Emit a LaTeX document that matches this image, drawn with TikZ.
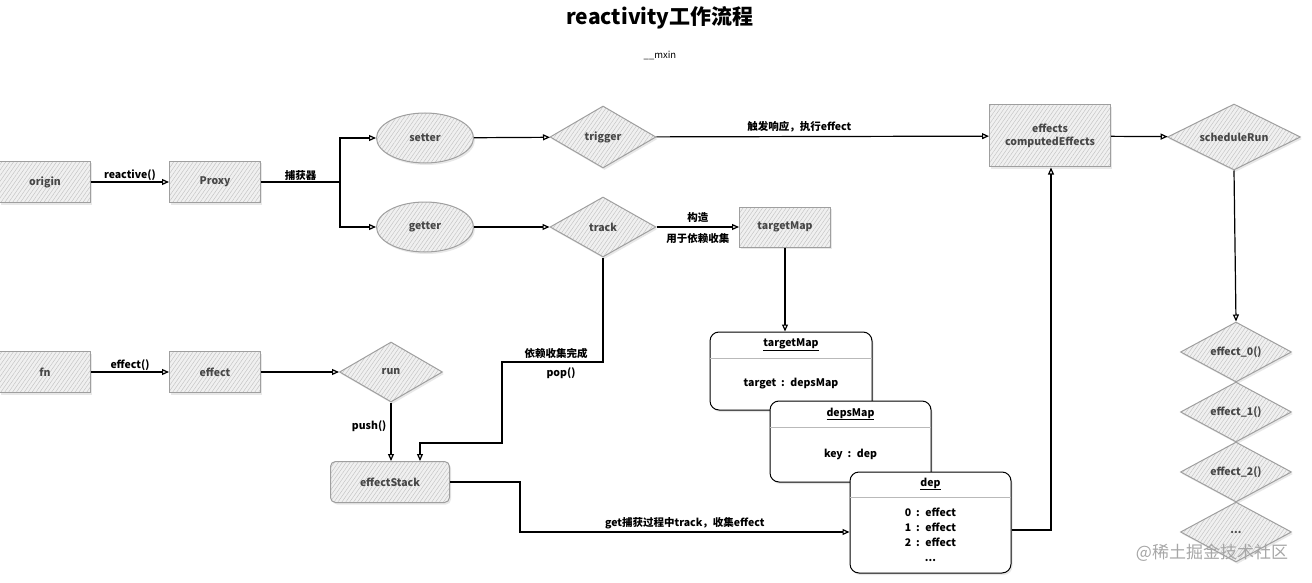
\documentclass[tikz,border=0pt]{standalone}
\usepackage{fontspec}
\setmainfont{Noto Sans CJK SC}
\usetikzlibrary{arrows.meta,shapes.geometric,patterns.meta,shadows}
\begin{document}
\begin{tikzpicture}[x=1pt,y=-1pt,
  shd/.style={drop shadow={shadow xshift=1.5pt,shadow yshift=-2pt,opacity=0.18}},
  hatch/.style={shd,draw=gray!75,line width=1pt,preaction={fill=gray!12},
    pattern={Lines[angle=55,distance=3.2pt,line width=0.4pt]},pattern color=gray!50,
    inner sep=0pt,text=black!72,font=\bfseries\fontsize{10.5}{13.5}\selectfont},
  box/.style={hatch,rectangle,minimum width=91pt,minimum height=41pt},
  ell/.style={hatch,ellipse,minimum width=97pt,minimum height=50pt},
  dia/.style={hatch,diamond,aspect=2,minimum width=106pt,minimum height=62pt},
  tab/.style={shd,draw=black,line width=1pt,fill=white,rounded corners=9pt,inner sep=0pt},
  ttl/.style={font=\bfseries\fontsize{10.5}{13.5}\selectfont},
  lbl/.style={font=\bfseries\fontsize{10.5}{13.5}\selectfont,inner sep=1pt},
  ln/.style={draw,line width=1.2pt},
  arr/.style={ln,-{Triangle[open,length=7pt,width=6pt]}}]
\useasboundingbox (0,0) rectangle (1312,583);

% title
\node[font=\bfseries\fontsize{21}{25}\selectfont] (title) at (660,18) {reactivity工作流程};
\node[font=\fontsize{9.5}{11}\selectfont] (author) at (660,55) {\_\_mxin};

% top row
\node[box] (origin) at (45,182) {origin};
\node[box] (proxy) at (215,182) {Proxy};
\node[ell] (setter) at (425,138) {setter};
\node[ell] (getter) at (425,227) {getter};
\node[dia] (trigger) at (603,137) {trigger};
\node[dia,minimum height=60pt] (track) at (603,227) {track};
\node[box,minimum height=40pt] (targetMap) at (785,227) {targetMap};
\node[box,minimum width=121pt,minimum height=62pt,align=center] (effects) at (1050,136) {effects\\computedEffects};
\node[dia,minimum width=133pt,minimum height=66pt] (sched) at (1234,137) {scheduleRun};

% right column of effects
\node[dia,minimum width=111pt,minimum height=60pt] (e0) at (1236,352) {effect\_0()};
\node[dia,minimum width=111pt,minimum height=60pt] (e1) at (1236,412) {effect\_1()};
\node[dia,minimum width=111pt,minimum height=60pt] (e2) at (1236,472) {effect\_2()};
\node[dia,minimum width=111pt,minimum height=60pt] (e3) at (1236,532) {...};

% bottom row
\node[box] (fn) at (45,372) {fn};
\node[box] (effect) at (215,372) {effect};
\node[dia,minimum width=103pt,minimum height=60pt] (run) at (391,372) {run};
\node[box,rounded corners=5pt,minimum width=119pt,minimum height=41pt] (stack) at (390,482) {effectStack};

% tables
\node[tab,minimum width=162pt,minimum height=78pt] (tm) at (791,371) {};
\draw[gray!55,line width=0.6pt] (710,358) -- (872,358);
\node[ttl] (tmt) at (791,345) {\underline{targetMap}};
\node[ttl] (tmb) at (791,384) {target \ : \ depsMap};

\node[tab,minimum width=161pt,minimum height=81pt] (dm) at (850.5,441.5) {};
\draw[gray!55,line width=0.6pt] (770,427) -- (931,427);
\node[ttl] (dmt) at (850.5,414) {\underline{depsMap}};
\node[ttl] (dmb) at (850.5,454) {key \ : \ dep};

\node[tab,minimum width=161pt,minimum height=101pt] (dep) at (930.5,522.5) {};
\draw[gray!55,line width=0.6pt] (850,497) -- (1011,497);
\node[ttl] (dept) at (930.5,484) {\underline{dep}};
\node[ttl,align=center,font=\bfseries\fontsize{10.5}{15}\selectfont] (depb) at (930.5,535) {0 \ : \ effect\\1 \ : \ effect\\2 \ : \ effect\\...};

% connectors top
\draw[arr] (origin) -- (proxy) node[lbl,midway,above] {reactive()};
\coordinate (split) at (340,182);
\draw[ln] (proxy) -- (split) node[lbl,midway,above] {捕获器};
\draw[arr] (split) |- (setter);
\draw[arr] (split) |- (getter);
\draw[arr] (setter) -- (trigger);
\draw[arr] (getter) -- (track);
\draw[arr] (trigger) -- (effects) node[lbl,pos=0.43,above=3pt] {触发响应，执行effect};
\draw[arr] (track) -- (targetMap)
  node[lbl,midway,above=3pt] {构造}
  node[lbl,midway,below=5pt] {用于依赖收集};
\draw[arr] (effects) -- (sched);
\draw[arr] (sched.south) -- (e0.north);
\draw[arr] (targetMap.south) -- (targetMap.south |- tm.north);

% connectors bottom
\draw[arr] (fn) -- (effect) node[lbl,midway,above] {effect()};
\draw[arr] (effect) -- (run);
\draw[arr] (run.south) -- (run.south |- stack.north) node[lbl,pos=0.4,left=3pt] {push()};
\coordinate (p1) at (502,362);
\coordinate (p2) at (420,443);
\draw[arr] (track.south) |- (p1) |- (p2) -- (p2 |- stack.north);
\node[lbl] (l1) at (556,353) {依赖收集完成};
\node[lbl] (l2) at (561,373) {pop()};
\coordinate (q1) at (520,532);
\draw[arr] (stack.east) -| (q1) -- (q1 -| dep.west) node[lbl,midway,above=1pt] {get捕获过程中track，收集effect};
\coordinate (r1) at (1051,530);
\draw[arr] (dep.east |- r1) -- (r1) -- (r1 |- effects.south);

% watermark
\node[text=gray!70,font=\fontsize{17}{20}\selectfont] (wm) at (1212,553) {@稀土掘金技术社区};
\end{tikzpicture}
\end{document}
